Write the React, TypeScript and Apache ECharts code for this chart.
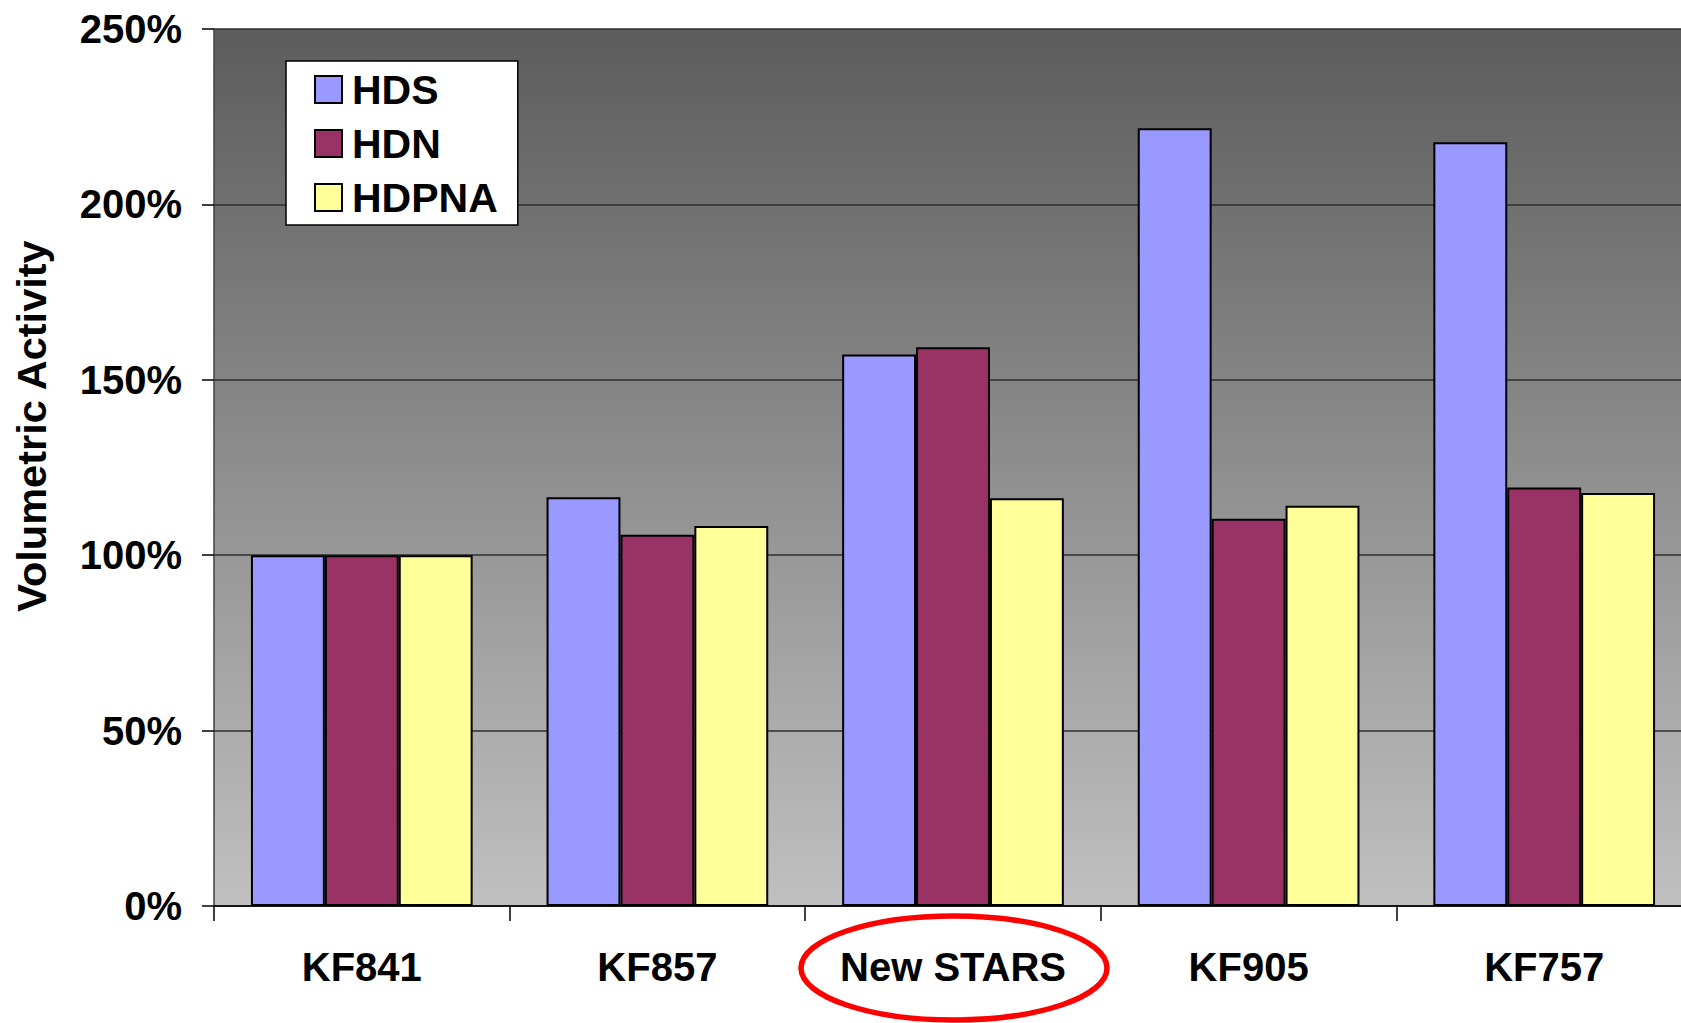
import React, { useEffect, useRef } from "react";
import * as echarts from "echarts";

const categories = ["KF841", "KF857", "New STARS", "KF905", "KF757"];
const hds = [100, 116.5, 157.2, 221.7, 217.7];
const hdn = [100, 105.8, 159.3, 110.4, 119.3];
const hdpna = [100, 108.3, 116.2, 114.1, 117.7];
const seriesNames = ["HDS", "HDN", "HDPNA"];
const seriesColors = ["#9999FF", "#993366", "#FFFF99"];
const yTicks = { min: 0, max: 250, interval: 50 };

const FONT = '"Liberation Sans", Arial, sans-serif';

export default function App() {
  const ref = useRef<HTMLDivElement>(null);
  useEffect(() => {
    if (!ref.current) return;
    const chart = echarts.init(ref.current, null, { renderer: "svg" });
    const data = [hds, hdn, hdpna];
    chart.setOption({
      animation: false,
      backgroundColor: "#ffffff",
      textStyle: { fontFamily: FONT },
      grid: {
        left: 214,
        top: 29,
        width: 1478,
        height: 877,
        show: true,
        borderWidth: 0,
        backgroundColor: new echarts.graphic.LinearGradient(0, 0, 0, 1, [
          { offset: 0, color: "#5c5c5c" },
          { offset: 1, color: "#c0c0c0" },
        ]),
      },
      legend: {
        orient: "vertical",
        left: 286,
        top: 61,
        padding: [8, 20, 7, 28],
        backgroundColor: "#ffffff",
        borderColor: "#000000",
        borderWidth: 1.5,
        itemWidth: 27,
        itemHeight: 27,
        itemGap: 13,
        icon: "rect",
        data: seriesNames,
        itemStyle: { borderColor: "#000000", borderWidth: 2 },
        textStyle: {
          fontFamily: FONT,
          fontWeight: "bold",
          fontSize: 41,
          color: "#000000",
          padding: [0, 0, 0, 5],
        },
      },
      xAxis: {
        type: "category",
        data: categories,
        axisLine: { show: true, lineStyle: { color: "#000000", width: 1.5 } },
        axisTick: { show: true, interval: 0, length: 15, lineStyle: { color: "#000000", width: 1.5 } },
        axisLabel: {
          interval: 0,
          hideOverlap: false,
          margin: 41,
          fontFamily: FONT,
          fontWeight: "bold",
          fontSize: 40,
          color: "#000000",
        },
        splitLine: { show: false },
      },
      yAxis: {
        type: "value",
        min: yTicks.min,
        max: yTicks.max,
        interval: yTicks.interval,
        axisLine: { show: true, lineStyle: { color: "#404040", width: 1.5 } },
        axisTick: { show: true, length: 12, lineStyle: { color: "#000000", width: 1.5 } },
        axisLabel: {
          margin: 32,
          formatter: "{value}%",
          fontFamily: FONT,
          fontWeight: "bold",
          fontSize: 40,
          color: "#000000",
        },
        splitLine: { show: true, lineStyle: { color: "#2e2e2e", width: 1.5 } },
      },
      series: seriesNames.map((name, i) => ({
        name,
        type: "bar",
        data: data[i],
        barGap: "0%",
        barCategoryGap: "25%",
        itemStyle: { color: seriesColors[i], borderColor: "#000000", borderWidth: 2 },
      })),
      graphic: [
        {
          type: "text",
          x: 31,
          y: 426,
          rotation: Math.PI / 2,
          style: {
            text: "Volumetric Activity",
            fontFamily: FONT,
            fontWeight: "bold",
            fontSize: 41.5,
            fill: "#000000",
            align: "center",
            verticalAlign: "middle",
          },
        },
        {
          type: "ellipse",
          shape: { cx: 954, cy: 968, rx: 153, ry: 52 },
          style: { fill: "none", stroke: "#ff0000", lineWidth: 5.5 },
        },
      ],
    });
    return () => chart.dispose();
  }, []);
  return (
    <div
      style={{
        position: "absolute",
        left: 0,
        top: 0,
        width: 1681,
        height: 1023,
        overflow: "hidden",
      }}
    >
      <div ref={ref} style={{ width: 1710, height: 1023 }} />
    </div>
  );
}
